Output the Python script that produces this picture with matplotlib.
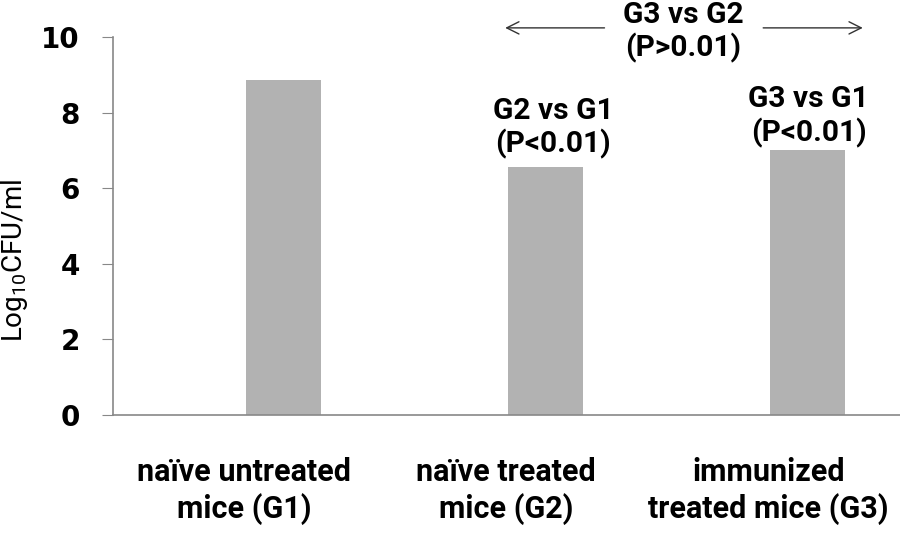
import matplotlib.pyplot as plt

# bacterial load per group
groups = ['naïve untreated\nmice (G1)', 'naïve treated\nmice (G2)', 'immunized\ntreated mice (G3)']
log_cfu = [8.86, 6.56, 7.01]
yticks = [0, 2, 4, 6, 8, 10]

plt.rcParams['font.family'] = ['Roboto', 'DejaVu Sans']
plt.rcParams['mathtext.fontset'] = 'custom'
plt.rcParams['mathtext.rm'] = 'Roboto'
plt.rcParams['mathtext.it'] = 'Roboto'

fig = plt.figure(figsize=(9, 5.34), dpi=100)
ax = fig.add_axes([0.1256, 0.2228, 0.874, 0.708])

pos = [0.5, 1.5, 2.5]
# bars sit right of the category centre (empty first series in the original)
ax.bar([p + 0.149 for p in pos], log_cfu, width=0.286, color='#b2b2b2')
ax.set_xlim(0, 3)
ax.set_ylim(0, 10)
ax.set_yticks(yticks)
ax.set_yticklabels([str(t) for t in yticks], fontsize=20, fontweight='bold',
                   family=['DejaVu Sans'])
ax.set_xticks(pos)
ax.set_xticklabels(groups, fontsize=22, fontweight='bold', linespacing=1.25)
ax.tick_params(axis='x', length=0, pad=30)
ax.tick_params(axis='y', length=8, color='#888888', pad=16)
for s in ['top', 'right']:
    ax.spines[s].set_visible(False)
for s in ['left', 'bottom']:
    ax.spines[s].set_color('#888888')
    ax.spines[s].set_linewidth(1.2)

ax.set_ylabel(r'Log$_{\mathrm{10}}$CFU/ml', fontsize=20)
ax.yaxis.set_label_coords(-0.105, 0.41)

# significance notes
note = dict(ha='center', va='center', fontsize=21.5, fontweight='bold', linespacing=1.2)
ax.text(1.679, 7.59, 'G2 vs G1\n(P<0.01)', **note)
ax.text(2.653, 7.90, 'G3 vs G1\n(P<0.01)', **note)
ax.text(2.176, 10.13, 'G3 vs G2\n(P>0.01)', clip_on=False, **note)
arrow = dict(arrowstyle='->', color='#333333', lw=1.0, mutation_scale=22)
ax.annotate('', xy=(1.485, 10.24), xytext=(1.885, 10.24), arrowprops=arrow, annotation_clip=False)
ax.annotate('', xy=(2.870, 10.24), xytext=(2.469, 10.24), arrowprops=arrow, annotation_clip=False)

fig.savefig('out.png', dpi=100)
